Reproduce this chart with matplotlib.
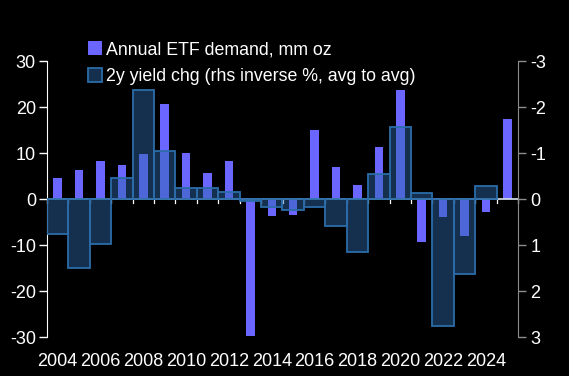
import numpy as np
import matplotlib
matplotlib.use("Agg")
import matplotlib.pyplot as plt
from matplotlib.patches import Patch
import matplotlib.transforms as mtransforms

plt.rcParams['font.family'] = ['Liberation Sans', 'DejaVu Sans']
plt.rcParams['axes.unicode_minus'] = False

years = list(range(2004, 2026))
# annual ETF demand, mm oz (left axis)
etf_demand = [4.6, 6.3, 8.3, 7.5, 9.8, 20.6, 9.9, 5.7, 8.3, -29.8, -3.7,
              -3.5, 15.1, 7.0, 3.0, 11.3, 23.8, -9.3, -3.9, -8.0, -2.8, 17.5]
# 2y yield change, % (right axis, inverted); no value for 2025
yield_chg = [0.75, 1.51, 0.98, -0.45, -2.36, -1.04, -0.24, -0.25, -0.16, 0.04, 0.17,
             0.24, 0.17, 0.58, 1.15, -0.54, -1.57, -0.12, 2.76, 1.63, -0.28]
year_labels = [str(y) for y in range(2004, 2026, 2)]

fig = plt.figure(figsize=(5.69, 3.76), dpi=100, facecolor='black')
ax = fig.add_axes([47/569, 1-337/376, 471/569, 276/376], facecolor='black')
ax2 = ax.twinx()

purple = '#6a66ff'
ax.bar(years, etf_demand, width=0.4, color=purple, zorder=2)
ax2.bar(years[:len(yield_chg)], yield_chg, width=1.0, facecolor=(0.18, 0.41, 0.67, 0.46),
        edgecolor='#2b6ca8', linewidth=1.3, zorder=3)

ax.set_xlim(2003.5, 2025.5)
ax.set_ylim(-30, 30)
ax2.set_ylim(3, -3)
ax.set_yticks([-30, -20, -10, 0, 10, 20, 30])
ax2.set_yticks([-3, -2, -1, 0, 1, 2, 3])

# put the bar axes below the twin so yield bars cover purple
ax.set_zorder(1)
ax2.set_zorder(2)
ax2.patch.set_visible(False)

for a in (ax, ax2):
    a.spines['top'].set_visible(False)
    a.spines['bottom'].set_visible(False)
ax2.spines['left'].set_visible(False)
ax.spines['right'].set_visible(False)
ax.spines['left'].set_color('white')
ax2.spines['right'].set_color('#8c8c8c')

ax.tick_params(axis='y', colors='white', labelsize=13, length=6, width=1, pad=2)
ax2.tick_params(axis='y', colors='#8c8c8c', labelcolor='white', labelsize=13, length=6,
                width=1, pad=3)
ax2.set_xticks([])

# x axis line at zero with ticks at year boundaries
ax.axhline(0, color='#d8e4f0', linewidth=1.2, zorder=4)
ax.set_xticks([])
for b in np.arange(2003.5, 2025.6, 1.0):
    ax.plot([b, b], [0, -0.9], color='white', linewidth=0.9, zorder=4, clip_on=False)

trans = mtransforms.blended_transform_factory(ax.transData, ax.transAxes)
for lab in year_labels:
    ax.text(int(lab), -0.09, lab, transform=trans, ha='center', va='center',
            color='white', fontsize=13)

handles = [Patch(facecolor=purple, edgecolor='none', label='Annual ETF demand, mm oz'),
           Patch(facecolor='#15304f', edgecolor='#2b6ca8', linewidth=1.3,
                 label='2y yield chg (rhs inverse %, avg to avg)')]
fig.legend(handles=handles, loc='upper left', bbox_to_anchor=(81/569, 1-34/376),
           frameon=False, fontsize=12.8, labelcolor='white', handlelength=0.8,
           handleheight=0.8, handletextpad=0.2, labelspacing=0.55, borderaxespad=0)

fig.savefig('out.png', dpi=100, facecolor='black')
